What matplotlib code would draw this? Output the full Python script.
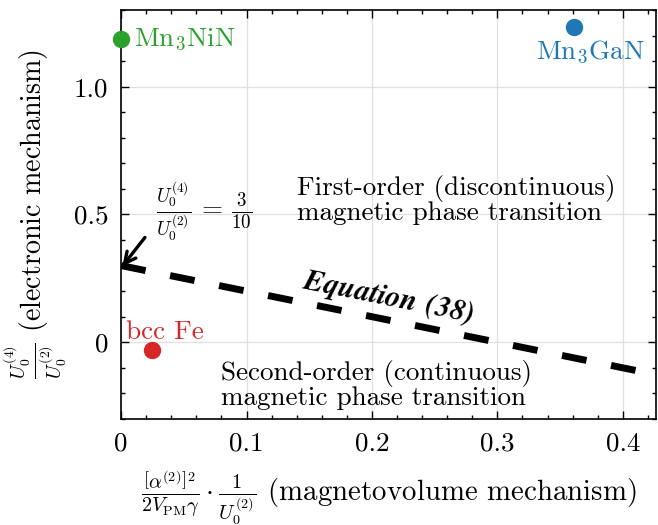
import numpy as np
import matplotlib
matplotlib.use("Agg")
import matplotlib.pyplot as plt
from matplotlib.ticker import MultipleLocator, FuncFormatter

plt.rcParams['font.family'] = 'serif'
plt.rcParams['font.serif'] = ['cmr10']
plt.rcParams['mathtext.fontset'] = 'cm'
plt.rcParams['axes.formatter.use_mathtext'] = True
plt.rcParams['font.size'] = 19.5

# materials: magnetovolume term (x) and electronic ratio U4/U2 (y)
names = ['Mn$_3$NiN', 'Mn$_3$GaN', 'bcc Fe']
x_vals = [0.0, 0.361, 0.0245]
y_vals = [1.186, 1.233, -0.030]
colors = ['#2ca02c', '#1f77b4', '#d62728']

# Equation (38): U4/U2 = 3/10 - x
intercept = 0.3
slope = -1.0
x_max = 0.4265

fs = 19.5
fig = plt.figure(figsize=(6.58, 5.25), dpi=100)
ax = fig.add_axes([0.184, 0.202, 0.813, 0.779])

xs = np.array([0.0, x_max])
ax.plot(xs, intercept + slope * xs, color='black', lw=5, dashes=(3.6, 3.6),
        solid_capstyle='butt', dash_capstyle='butt', zorder=3)

for xv, yv, c in zip(x_vals, y_vals, colors):
    ax.plot(xv, yv, 'o', color=c, ms=11.5, clip_on=False, zorder=4)

ax.text(0.0104, y_vals[0], names[0], color=colors[0],
        ha='left', va='center', fontsize=fs)
ax.text(0.374, 1.19, names[1], color=colors[1],
        ha='center', va='top', fontsize=fs)
ax.text(0.035, 0.012, names[2], color=colors[2],
        ha='center', va='baseline', fontsize=fs)

ax.text(0.1405, 0.556, 'First-order (discontinuous)\nmagnetic phase transition',
        ha='left', va='center', linespacing=0.95, fontsize=fs)
ax.text(0.0798, -0.166, 'Second-order (continuous)\nmagnetic phase transition',
        ha='left', va='center', linespacing=0.95, fontsize=fs)

ax.text(0.2135, 0.172, r'$\mathbfit{Equation\ (38)}$', rotation=-11.4,
        rotation_mode='anchor', ha='center', va='center', fontsize=21.5)

ax.annotate('', xy=(0.001, 0.297), xytext=(0.019, 0.41),
            arrowprops=dict(arrowstyle='->', lw=2.4, color='black',
                            mutation_scale=20, shrinkA=0, shrinkB=0))
ax.text(0.066, 0.509, r'$\frac{U_0^{(4)}}{U_0^{(2)}}\,=\,\frac{3}{10}$',
        ha='center', va='center', fontsize=fs)

ax.set_xlim(0, x_max)
ax.set_ylim(-0.3, 1.3)
ax.xaxis.set_major_locator(MultipleLocator(0.1))
ax.xaxis.set_minor_locator(MultipleLocator(0.02))
ax.yaxis.set_major_locator(MultipleLocator(0.5))
ax.yaxis.set_minor_locator(MultipleLocator(0.1))
fmt = FuncFormatter(lambda v, p: '0' if abs(v) < 1e-9 else f'{v:.1f}')
ax.xaxis.set_major_formatter(fmt)
ax.yaxis.set_major_formatter(fmt)
ax.tick_params(which='both', direction='in', top=True, right=True, width=1)
ax.tick_params(which='major', length=6, labelsize=fs, pad=9)
ax.tick_params(which='minor', length=3)
ax.grid(True, which='major', color='#e0e0e0', lw=0.9)
ax.set_axisbelow(True)
for s in ax.spines.values():
    s.set_linewidth(1.2)

ax.set_xlabel(r'$\frac{\left[\alpha^{(2)}\right]^2}{2V_{\rm PM}\gamma}\cdot\frac{1}{U_0^{(2)}}$ (magnetovolume mechanism)',
              fontsize=20.8, labelpad=9)
ax.set_ylabel(r'$\frac{U_0^{(4)}}{U_0^{(2)}}$ (electronic mechanism)',
              fontsize=20.2, labelpad=4)

fig.savefig('out.png', dpi=100)
